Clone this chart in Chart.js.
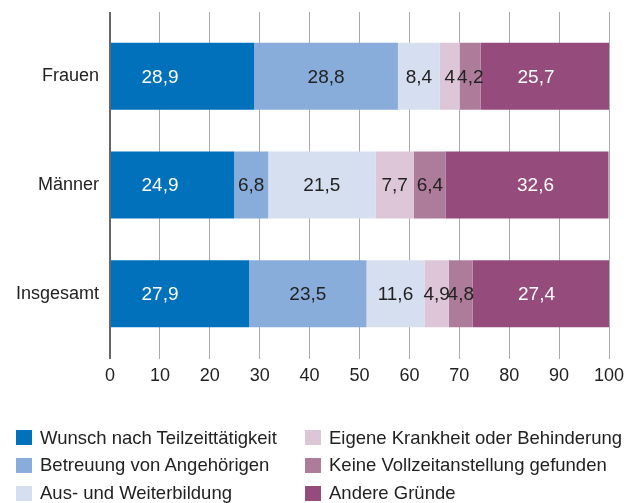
<!DOCTYPE html>
<html>
<head>
<meta charset="utf-8">
<script src="https://cdn.jsdelivr.net/npm/chart.js@4"></script>
<style>
  body { margin: 0; background: #fff; }
  #wrap { position: relative; width: 627px; height: 503px; }
  #legend { position: absolute; left: 0; top: 0; width: 627px; height: 503px; font-family: "Liberation Sans", Arial, sans-serif; font-size: 18.5px; color: #222; }
  .item { position: absolute; display: flex; align-items: center; white-space: nowrap; height: 20px; }
  .box { width: 16px; height: 15px; margin-right: 8px; }
</style>
</head>
<body>
<div id="wrap">
  <canvas id="chart" width="627" height="400"></canvas>
  <div id="legend"></div>
</div>
<script>
const categories = ['Frauen', 'Männer', 'Insgesamt'];
const seriesNames = [
    'Wunsch nach Teilzeittätigkeit',
    'Betreuung von Angehörigen',
    'Aus- und Weiterbildung',
    'Eigene Krankheit oder Behinderung',
    'Keine Vollzeitanstellung gefunden',
    'Andere Gründe'
];
const wunsch = [28.9, 24.9, 27.9];
const betreuung = [28.8, 6.8, 23.5];
const ausbildung = [8.4, 21.5, 11.6];
const krankheit = [4, 7.7, 4.9];
const keineVollzeit = [4.2, 6.4, 4.8];
const andere = [25.7, 32.6, 27.4];
const xTicks = [0, 10, 20, 30, 40, 50, 60, 70, 80, 90, 100];

const colors = ['#0171bb', '#89addb', '#d5dff0', '#dcc6d7', '#ae7c9b', '#954b7b'];
const labelColors = ['#fff', '#222', '#222', '#222', '#222', '#fff'];
const allSeries = [wunsch, betreuung, ausbildung, krankheit, keineVollzeit, andere];
const font = { family: '"Liberation Sans", Arial, sans-serif', size: 18 };

// values written inside the segments
const valueLabels = {
    id: 'valueLabels',
    afterDatasetsDraw(chart) {
        const ctx = chart.ctx;
        ctx.save();
        ctx.font = '19px "Liberation Sans", Arial, sans-serif';
        ctx.textAlign = 'center';
        ctx.textBaseline = 'middle';
        chart.data.datasets.forEach((ds, i) => {
            chart.getDatasetMeta(i).data.forEach((bar, j) => {
                let x = (bar.x + bar.base) / 2;
                if (i === 0) x = bar.base + 49;
                if (i === chart.data.datasets.length - 1) x = bar.x - 73;
                ctx.fillStyle = labelColors[i];
                ctx.fillText(String(ds.data[j]).replace('.', ','), x, bar.y + 1);
            });
        });
        ctx.restore();
    }
};

const gridColor = c => (c.tick && c.tick.value === 0) ? '#666' : '#aaa';
const gridWidth = c => (c.tick && c.tick.value === 0) ? 2 : 1;
const fixX = h => s => { s.height = h; s.paddingLeft = 0; s.paddingRight = 0; };

new Chart(document.getElementById('chart'), {
    type: 'bar',
    data: {
        labels: categories,
        datasets: allSeries.map((d, i) => ({
            label: seriesNames[i],
            data: d,
            backgroundColor: colors[i],
            borderWidth: 0,
            barPercentage: 0.617,
            categoryPercentage: 1
        }))
    },
    options: {
        indexAxis: 'y',
        responsive: false,
        animation: false,
        devicePixelRatio: 1,
        layout: { padding: { left: 0, right: 18, top: 12, bottom: 12 } },
        plugins: { legend: { display: false }, tooltip: { enabled: false } },
        scales: {
            x: {
                type: 'linear', stacked: true, min: 0, max: 100,
                afterBuildTicks: s => { s.ticks = xTicks.map(v => ({ value: v })); },
                ticks: { font: font, color: '#222', padding: 6, maxRotation: 0 },
                grid: { color: gridColor, lineWidth: gridWidth, tickLength: 11 },
                border: { display: false },
                afterFit: fixX(40)
            },
            x2: {
                type: 'linear', position: 'top', min: 0, max: 100,
                afterBuildTicks: s => { s.ticks = xTicks.map(v => ({ value: v })); },
                ticks: { display: false },
                grid: { color: gridColor, lineWidth: gridWidth, tickLength: 10, drawOnChartArea: false },
                border: { display: false },
                afterFit: fixX(10)
            },
            y: {
                stacked: true,
                grid: { display: false, drawTicks: false },
                border: { display: false },
                ticks: { font: font, color: '#222', padding: 11 },
                afterFit: s => { s.width = 110; }
            }
        }
    },
    plugins: [valueLabels]
});

// legend in two columns
const legend = document.getElementById('legend');
const colX = [16, 305];
const rowY = [437.5, 465, 493];
seriesNames.forEach((name, i) => {
    const item = document.createElement('div');
    item.className = 'item';
    item.style.left = colX[Math.floor(i / 3)] + 'px';
    item.style.top = (rowY[i % 3] - 10) + 'px';
    const box = document.createElement('span');
    box.className = 'box';
    box.style.background = colors[i];
    const txt = document.createElement('span');
    txt.textContent = name;
    item.appendChild(box);
    item.appendChild(txt);
    legend.appendChild(item);
});
</script>
</body>
</html>
